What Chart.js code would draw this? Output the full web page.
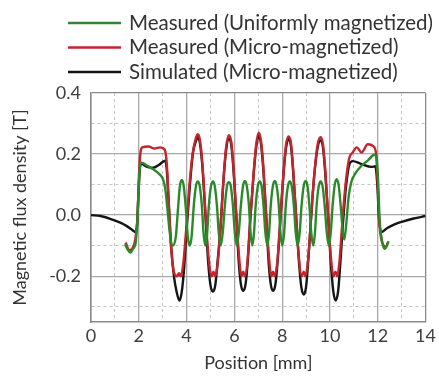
<html lang="en">
  <head>
    <meta charset="utf-8" />
    <title>Magnetic flux density profile</title>
    <script src="https://cdn.jsdelivr.net/npm/chart.js@4.4.1/dist/chart.umd.min.js"></script>
    <style>
      html,
      body {
        margin: 0;
        padding: 0;
        background: #fff;
      }
      #wrap {
        position: relative;
        width: 439px;
        height: 377px;
      }
    </style>
  </head>
  <body>
    <div id="wrap"><canvas id="chart" width="439" height="377"></canvas></div>
    <script>
      // series labels (legend order)
      const seriesLabels = [
        "Measured (Uniformly magnetized)",
        "Measured (Micro-magnetized)",
        "Simulated (Micro-magnetized)"
      ];
      const seriesColors = ["#2a8a2a", "#c4242c", "#151515"];

      // [position mm, flux density T]
      const uniformMeasured = [
        [1.42,-0.095],[1.55,-0.115],[1.65,-0.123],[1.76,-0.11],[1.86,-0.095],[1.94,-0.02],[2.0,0.1],[2.06,0.165],
        [2.12,0.172],[2.35,0.162],[2.6,0.15],[2.85,0.135],[3.0,0.12],[3.1,0.09],[3.2,0.02],[3.3,-0.06],[3.42,-0.1],
        [3.55,-0.07],[3.64,0.02],[3.72,0.095],[3.8,0.115],[3.88,0.095],[3.97,0.02],[4.05,-0.07],[4.13,-0.1],
        [4.21,-0.07],[4.3,0.03],[4.39,0.095],[4.47,0.11],[4.55,0.095],[4.64,0.03],[4.71,-0.06],[4.78,-0.1],
        [4.86,-0.06],[4.93,0.03],[5.02,0.095],[5.1,0.11],[5.18,0.095],[5.27,0.03],[5.35,-0.06],[5.43,-0.1],
        [5.51,-0.06],[5.6,0.03],[5.69,0.095],[5.77,0.108],[5.85,0.095],[5.94,0.03],[6.02,-0.06],[6.1,-0.1],
        [6.18,-0.06],[6.27,0.03],[6.36,0.095],[6.44,0.112],[6.52,0.095],[6.61,0.03],[6.68,-0.06],[6.75,-0.1],
        [6.82,-0.06],[6.89,0.03],[6.98,0.095],[7.06,0.11],[7.14,0.095],[7.22,0.03],[7.3,-0.06],[7.38,-0.1],
        [7.45,-0.06],[7.52,0.03],[7.61,0.095],[7.69,0.112],[7.77,0.095],[7.86,0.03],[7.93,-0.06],[8.0,-0.1],
        [8.08,-0.06],[8.15,0.03],[8.24,0.095],[8.32,0.11],[8.4,0.095],[8.49,0.03],[8.57,-0.06],[8.65,-0.1],
        [8.73,-0.06],[8.81,0.03],[8.9,0.095],[8.98,0.112],[9.06,0.095],[9.14,0.03],[9.22,-0.06],[9.3,-0.1],
        [9.37,-0.06],[9.44,0.03],[9.53,0.095],[9.61,0.11],[9.69,0.095],[9.78,0.03],[9.87,-0.06],[9.95,-0.1],
        [10.03,-0.06],[10.11,0.03],[10.2,0.1],[10.28,0.118],[10.36,0.1],[10.45,0.03],[10.53,-0.05],[10.6,-0.08],
        [10.68,-0.03],[10.78,0.06],[10.9,0.11],[11.05,0.135],[11.3,0.16],[11.6,0.18],[11.85,0.198],[11.95,0.19],
        [12.02,0.1],[12.08,-0.02],[12.15,-0.07],[12.22,-0.1],[12.3,-0.11],[12.38,-0.1],[12.45,-0.085]
      ];

      const microMeasured = [
        [1.45,-0.09],[1.6,-0.115],[1.72,-0.11],[1.85,-0.08],[1.95,0.0],[2.02,0.15],[2.08,0.21],[2.15,0.222],
        [2.4,0.225],[2.65,0.218],[2.9,0.222],[3.08,0.215],[3.17,0.17],[3.25,0.05],[3.35,-0.1],[3.48,-0.19],
        [3.6,-0.2],[3.68,-0.19],[3.76,-0.2],[3.86,-0.16],[3.98,-0.05],[4.1,0.08],[4.25,0.2],[4.38,0.25],
        [4.47,0.265],[4.56,0.245],[4.67,0.16],[4.78,0.02],[4.9,-0.12],[5.0,-0.19],[5.06,-0.2],[5.12,-0.185],
        [5.2,-0.2],[5.3,-0.16],[5.42,-0.04],[5.53,0.1],[5.65,0.22],[5.77,0.262],[5.87,0.24],[5.97,0.15],
        [6.08,0.0],[6.2,-0.14],[6.3,-0.2],[6.37,-0.185],[6.44,-0.2],[6.55,-0.15],[6.66,-0.02],[6.79,0.12],
        [6.91,0.23],[7.02,0.27],[7.12,0.24],[7.22,0.15],[7.33,0.0],[7.45,-0.14],[7.55,-0.2],[7.62,-0.185],
        [7.69,-0.2],[7.8,-0.15],[7.92,-0.02],[8.04,0.12],[8.16,0.23],[8.27,0.258],[8.37,0.235],[8.47,0.14],
        [8.58,0.0],[8.7,-0.14],[8.82,-0.2],[8.9,-0.185],[8.97,-0.2],[9.08,-0.15],[9.2,-0.02],[9.33,0.12],
        [9.48,0.23],[9.61,0.255],[9.71,0.23],[9.81,0.14],[9.92,0.0],[10.04,-0.14],[10.15,-0.2],[10.23,-0.185],
        [10.3,-0.2],[10.4,-0.15],[10.52,-0.02],[10.65,0.1],[10.8,0.185],[10.95,0.205],[11.12,0.222],[11.32,0.205],
        [11.58,0.232],[11.82,0.225],[11.93,0.2],[12.0,0.1],[12.07,-0.03],[12.15,-0.08],[12.25,-0.1],[12.35,-0.105],
        [12.42,-0.09]
      ];

      const microSimulated = [
        [0,0],[0.4,-0.003],[0.8,-0.012],[1.2,-0.024],[1.5,-0.036],[1.75,-0.05],[1.87,-0.056],[1.93,-0.03],
        [1.98,0.06],[2.04,0.15],[2.1,0.168],[2.35,0.158],[2.6,0.155],[2.85,0.165],[3.1,0.178],[3.17,0.15],
        [3.25,0.04],[3.35,-0.1],[3.47,-0.2],[3.58,-0.25],[3.7,-0.28],[3.8,-0.25],[3.9,-0.17],[4.0,-0.05],
        [4.12,0.08],[4.26,0.2],[4.38,0.24],[4.47,0.255],[4.56,0.235],[4.67,0.15],[4.78,0.01],[4.9,-0.15],
        [5.0,-0.23],[5.1,-0.25],[5.2,-0.23],[5.3,-0.15],[5.42,-0.04],[5.53,0.1],[5.65,0.21],[5.77,0.25],
        [5.87,0.23],[5.97,0.14],[6.08,0.0],[6.18,-0.15],[6.27,-0.225],[6.37,-0.248],[6.47,-0.225],[6.56,-0.15],
        [6.66,-0.02],[6.79,0.12],[6.91,0.22],[7.02,0.26],[7.12,0.23],[7.22,0.14],[7.33,0.0],[7.43,-0.15],
        [7.52,-0.225],[7.62,-0.248],[7.72,-0.225],[7.81,-0.15],[7.92,-0.02],[8.04,0.12],[8.16,0.22],[8.27,0.25],
        [8.37,0.225],[8.47,0.13],[8.58,0.0],[8.7,-0.15],[8.8,-0.235],[8.9,-0.26],[9.0,-0.235],[9.09,-0.15],
        [9.2,-0.02],[9.33,0.12],[9.48,0.22],[9.61,0.245],[9.71,0.22],[9.81,0.13],[9.92,0.0],[10.03,-0.15],
        [10.14,-0.25],[10.24,-0.28],[10.34,-0.25],[10.44,-0.15],[10.55,-0.02],[10.68,0.1],[10.82,0.168],
        [10.95,0.177],[11.3,0.168],[11.74,0.158],[11.9,0.16],[11.98,0.1],[12.06,-0.02],[12.16,-0.055],
        [12.4,-0.042],[12.7,-0.03],[13.0,-0.022],[13.5,-0.011],[14.0,-0.003]
      ];

      const xTicks = [0,1,2,3,4,5,6,7,8,9,10,11,12,13,14];
      const yTicks = [-0.3,-0.2,-0.1,0.0,0.1,0.2,0.3,0.4];

      const FONT = "Lato";
      const toXY = (pts) => pts.map((p) => ({ x: p[0], y: p[1] }));

      // legend drawn as stacked rows, left-aligned
      const stackedLegend = {
        id: "stackedLegend",
        afterDraw(chart) {
          const ctx = chart.ctx;
          ctx.save();
          ctx.font = "20.5px " + FONT;
          ctx.textBaseline = "middle";
          chart.data.datasets.forEach((ds, i) => {
            const y = 23 + i * 24.5;
            ctx.strokeStyle = ds.borderColor;
            ctx.lineWidth = 2.5;
            ctx.beginPath();
            ctx.moveTo(68, y);
            ctx.lineTo(121, y);
            ctx.stroke();
            ctx.fillStyle = "#333";
            ctx.fillText(ds.label, 129, y);
          });
          ctx.restore();
        }
      };

      const isMajorX = (v) => Math.round(v) % 2 === 0;
      const isMajorY = (v) => Math.round(v * 10) % 2 === 0;

      new Chart(document.getElementById("chart"), {
        type: "scatter",
        data: {
          datasets: [
            { label: seriesLabels[0], data: toXY(uniformMeasured), borderColor: seriesColors[0] },
            { label: seriesLabels[1], data: toXY(microMeasured), borderColor: seriesColors[1] },
            { label: seriesLabels[2], data: toXY(microSimulated), borderColor: seriesColors[2] }
          ]
        },
        options: {
          responsive: false,
          animation: false,
          layout: { padding: { top: 93, left: 9, right: 13, bottom: 3 } },
          elements: {
            point: { radius: 0 },
            line: { borderWidth: 2.4, cubicInterpolationMode: "monotone", fill: false }
          },
          datasets: { scatter: { showLine: true } },
          plugins: {
            legend: { display: false },
            tooltip: { enabled: false }
          },
          scales: {
            x: {
              type: "linear",
              min: 0,
              max: 14,
              afterBuildTicks: (s) => { s.ticks = xTicks.map((v) => ({ value: v })); },
              afterFit: (s) => { s.height = 52; },
              ticks: {
                autoSkip: false,
                maxRotation: 0,
                minRotation: 0,
                padding: 3,
                color: "#404040",
                font: { family: FONT, size: 18 },
                callback: (v) => (isMajorX(v) ? String(v) : "")
              },
              grid: {
                drawTicks: false,
                color: (c) => (c.tick && (c.tick.value === 0 || c.tick.value === 14) ? "#8a8a8a" : isMajorX(c.tick ? c.tick.value : 0) ? "#a8a8a8" : "#c4c4c4"),
                lineWidth: (c) => (c.tick && isMajorX(c.tick.value) ? 1.3 : 1)
              },
              border: {
                color: "#8a8a8a",
                width: 1.5,
                dash: (c) => (c.tick && !isMajorX(c.tick.value) ? [3, 3] : [])
              },
              title: {
                display: true,
                text: "Position [mm]",
                color: "#333",
                padding: 0,
                font: { family: FONT, size: 18 }
              }
            },
            y: {
              min: -0.35,
              max: 0.4,
              afterBuildTicks: (s) => { s.ticks = yTicks.map((v) => ({ value: v })); },
              afterFit: (s) => { s.width = 82; },
              ticks: {
                autoSkip: false,
                padding: 10,
                color: "#404040",
                font: { family: FONT, size: 18 },
                callback: (v) => (isMajorY(v) ? v.toFixed(1) : "")
              },
              grid: {
                drawTicks: false,
                color: (c) => (c.tick && Math.abs(c.tick.value - 0.4) < 1e-6 ? "#8a8a8a" : isMajorY(c.tick ? c.tick.value : 0) ? "#a8a8a8" : "#c4c4c4"),
                lineWidth: (c) => (c.tick && isMajorY(c.tick.value) ? 1.3 : 1)
              },
              border: {
                color: "#8a8a8a",
                width: 1.5,
                dash: (c) => (c.tick && !isMajorY(c.tick.value) ? [3, 3] : [])
              },
              title: {
                display: true,
                text: "Magnetic flux density [T]",
                color: "#333",
                padding: 0,
                font: { family: FONT, size: 18 }
              }
            }
          }
        },
        plugins: [stackedLegend]
      });
    </script>
  </body>
</html>
